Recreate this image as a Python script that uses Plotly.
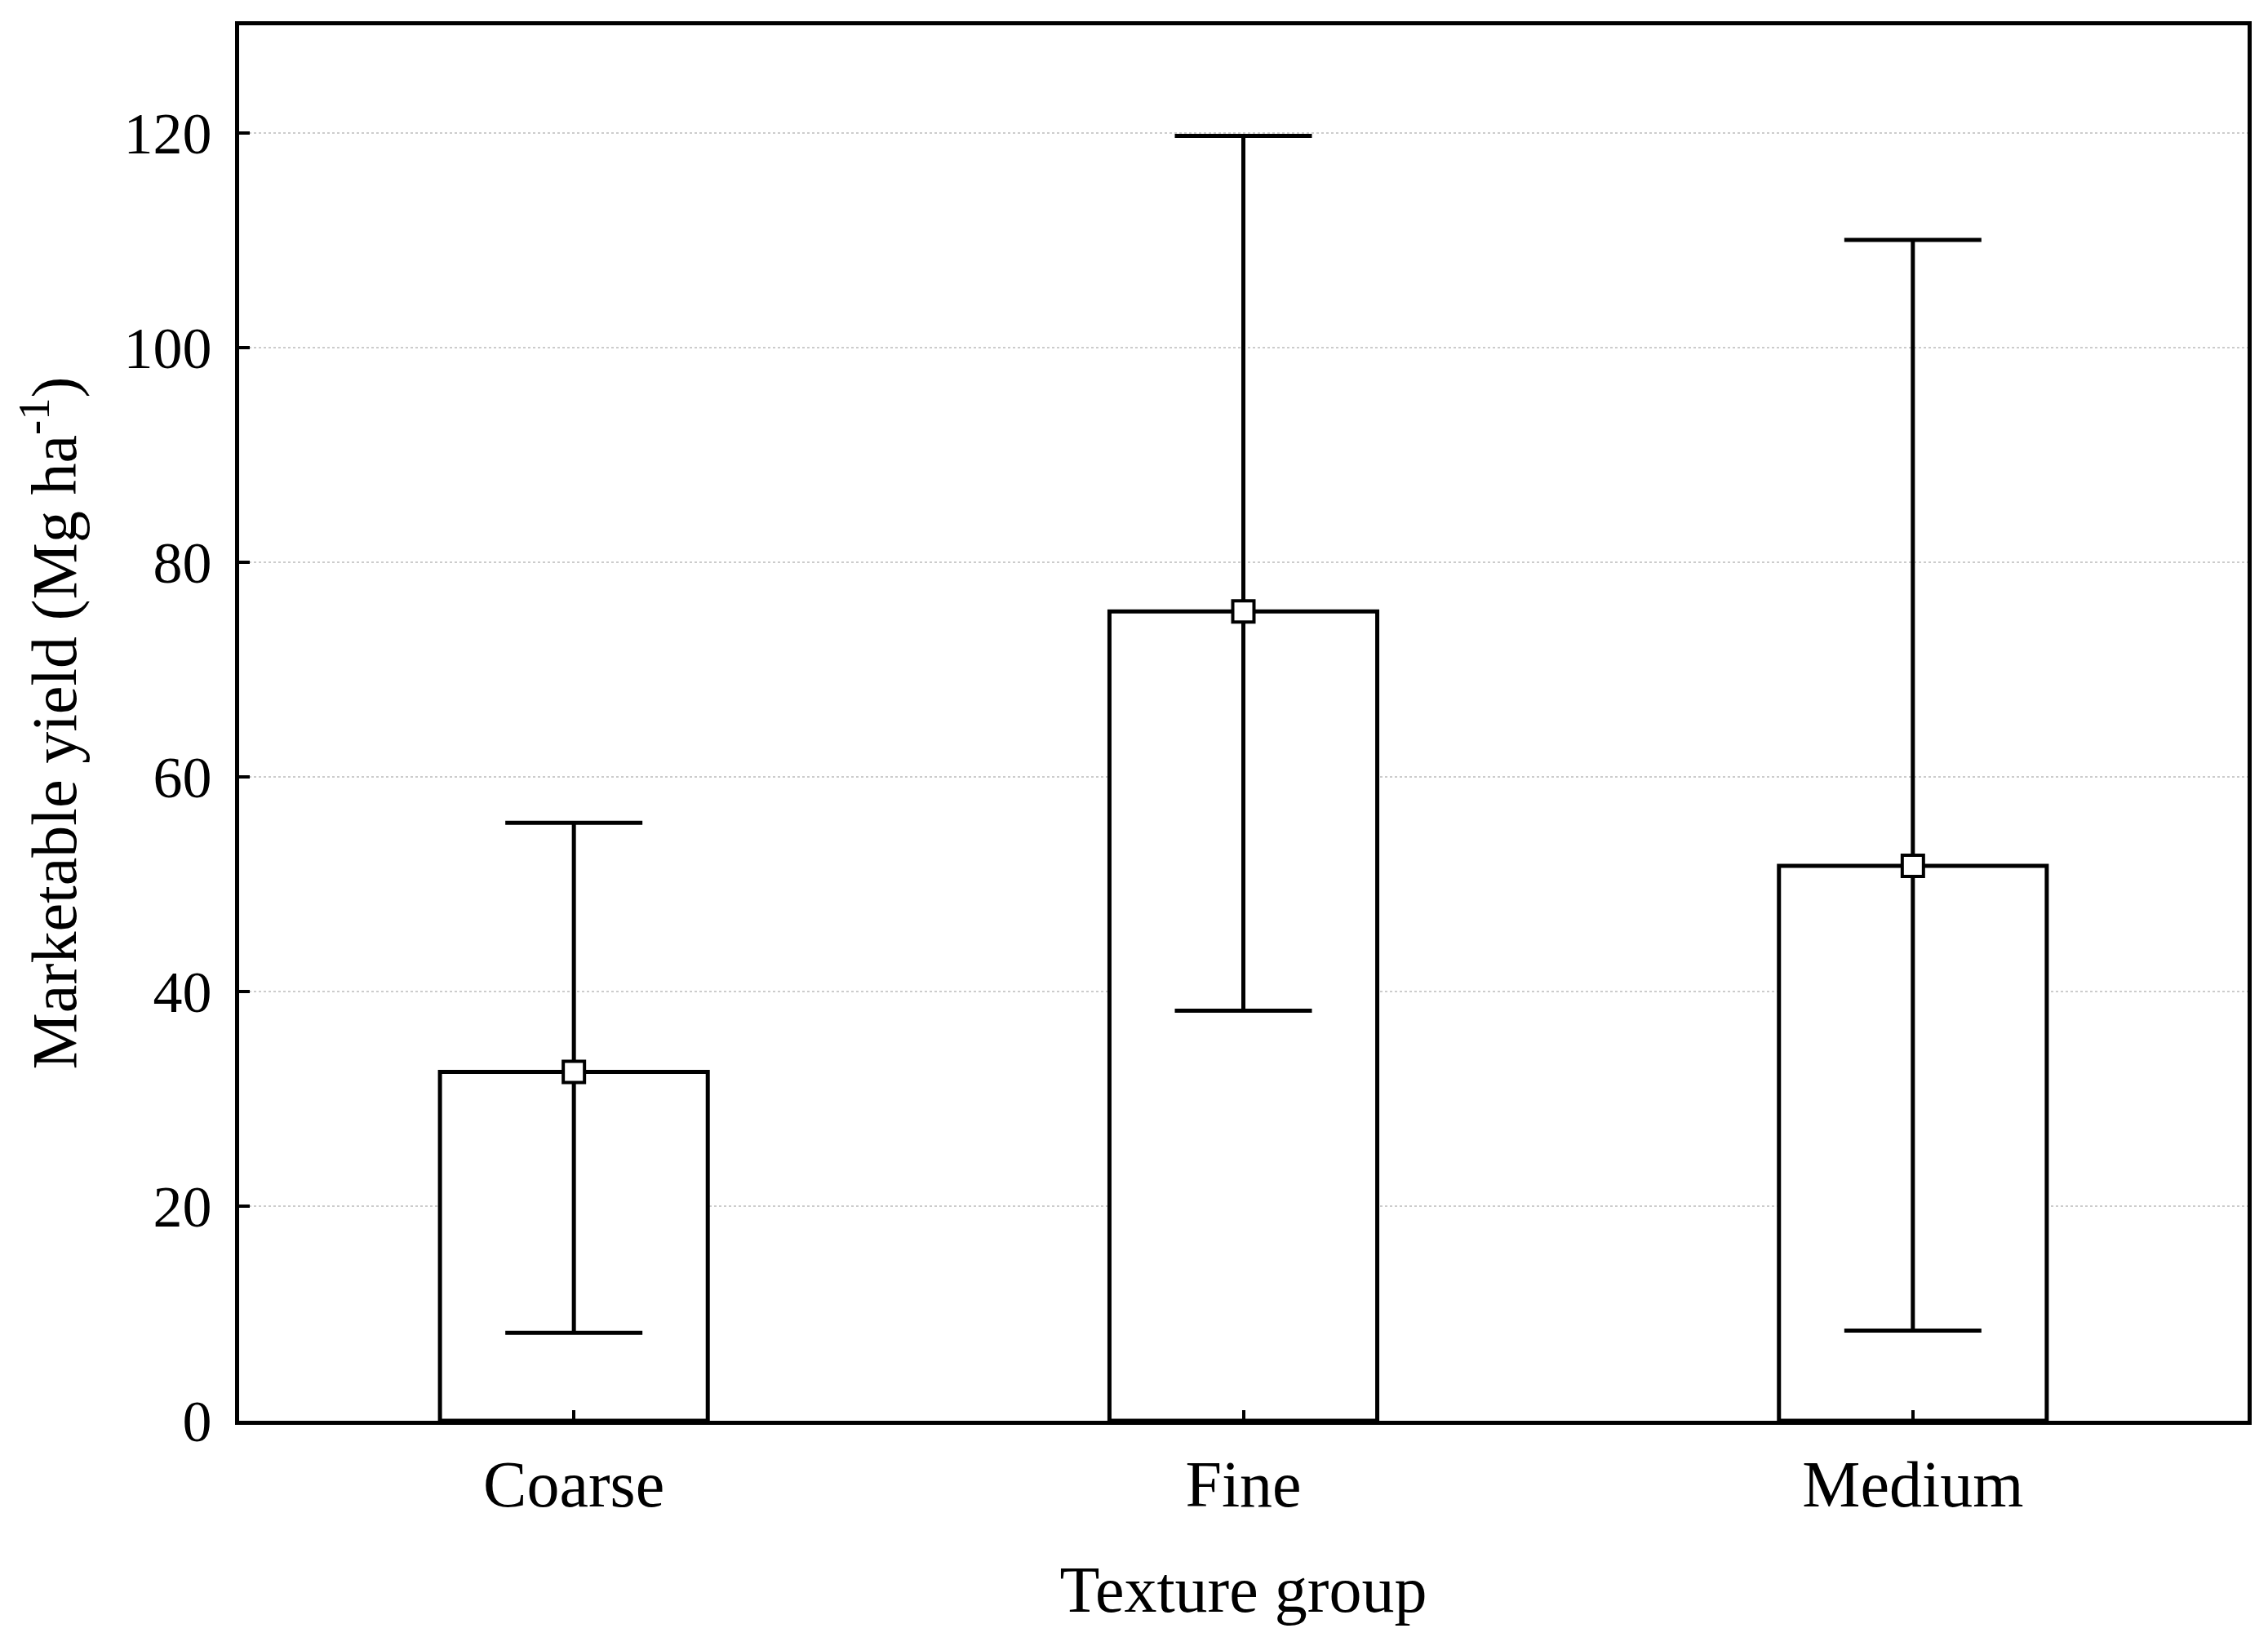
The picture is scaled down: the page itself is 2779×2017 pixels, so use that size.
import plotly.graph_objects as go

# texture groups and marketable yield (Mg/ha): mean, upper and lower whisker
groups = ["Coarse", "Fine", "Medium"]
mean_yield = [32.5, 75.4, 51.7]
upper = [55.7, 119.7, 110.0]
lower = [8.2, 38.2, 8.4]

y_ticks = [0, 20, 40, 60, 80, 100, 120]

err_plus = [u - m for u, m in zip(upper, mean_yield)]
err_minus = [m - l for m, l in zip(mean_yield, lower)]

font = "Liberation Serif"

fig = go.Figure()

# bars
fig.add_trace(go.Bar(
    x=groups, y=mean_yield, width=0.4,
    marker=dict(color="white", line=dict(color="black", width=5)),
    showlegend=False, hoverinfo="skip"))

# whiskers + square mean marker
fig.add_trace(go.Scatter(
    x=groups, y=mean_yield, mode="markers",
    marker=dict(symbol="square", size=26, color="white",
                line=dict(color="black", width=4)),
    error_y=dict(type="data", symmetric=False, array=err_plus,
                 arrayminus=err_minus, color="black", thickness=5, width=84),
    showlegend=False))

# margins leave room for the page's 8px body offset
fig.update_layout(
    width=2779, height=2017,
    margin=dict(l=285, r=33, t=23, b=284, autoexpand=False),
    paper_bgcolor="white", plot_bgcolor="white",
    font=dict(family=font, size=70, color="black"),
)

fig.update_xaxes(
    range=[-0.5, 2.5], showgrid=False, zeroline=False,
    showline=True, linecolor="black", linewidth=5, mirror=True,
    ticks="inside", ticklen=13, tickwidth=4, tickcolor="black",
    ticklabelstandoff=4, tickfont=dict(size=80),
    title=dict(text="Texture group", standoff=58, font=dict(size=80)),
    automargin=False)

fig.update_yaxes(
    range=[0, 130], tickvals=y_ticks, zeroline=False,
    showgrid=True, gridcolor="#cccccc", gridwidth=2, griddash="dot",
    showline=True, linecolor="black", linewidth=5, mirror=True,
    ticks="inside", ticklen=13, tickwidth=4, tickcolor="black",
    ticklabelstandoff=14, tickfont=dict(size=72),
    title=dict(text="Marketable yield (Mg ha<sup>-1</sup>)", standoff=34,
               font=dict(size=78)),
    automargin=False)

fig.write_html("out.html")
